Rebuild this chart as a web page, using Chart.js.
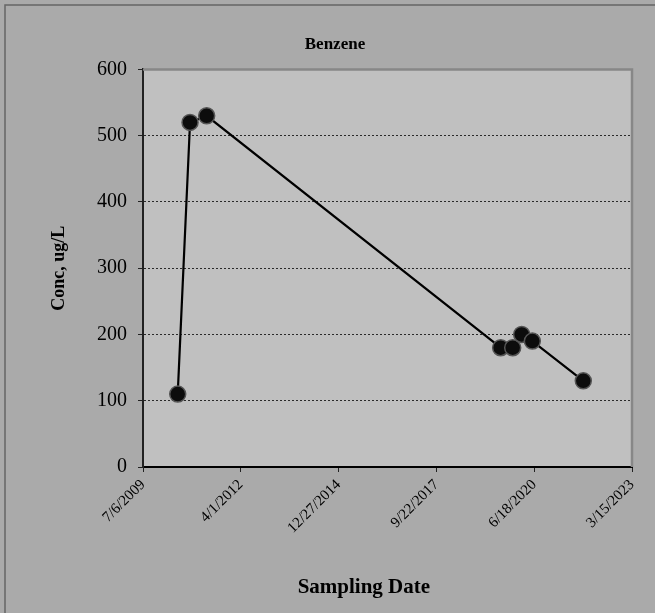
<!DOCTYPE html>
<html>
<head>
<meta charset="utf-8">
<title>Benzene</title>
<script src="https://cdn.jsdelivr.net/npm/chart.js@4.4.1/dist/chart.umd.min.js"></script>
<style>
    html, body { margin: 0; padding: 0; background: #aaaaaa; }
    #chart-wrap { width: 655px; height: 613px; }
</style>
</head>
<body>
<div id="chart-wrap">
    <canvas id="benzene-chart" width="655" height="613"></canvas>
</div>
<script>
// Sampling dates and benzene concentrations (ug/L)
const sampleDates = ['2010-06-26', '2010-10-30', '2011-04-18', '2019-07-11', '2019-11-11', '2020-02-11', '2020-05-30', '2021-11-02'];
const concValues = [110, 520, 530, 180, 180, 200, 190, 130];

// Axis ticks
const xTickDates = ['2009-07-06', '2012-04-01', '2014-12-27', '2017-09-22', '2020-06-18', '2023-03-15'];
const yTicks = [0, 100, 200, 300, 400, 500, 600];

const serif = "'Liberation Serif', 'Times New Roman', serif";

function toMs(s) {
    const p = s.split('-');
    return Date.UTC(+p[0], +p[1] - 1, +p[2]);
}

function fmtDate(ms) {
    const d = new Date(ms);
    return (d.getUTCMonth() + 1) + '/' + d.getUTCDate() + '/' + d.getUTCFullYear();
}

const xTickValues = xTickDates.map(toMs);
const points = sampleDates.map((d, i) => ({ x: toMs(d), y: concValues[i] }));

// Grey page, dark frame, plot area fill and its top/right border
const backgroundPlugin = {
    id: 'backgrounds',
    beforeDraw(chart) {
        const ctx = chart.ctx;
        const a = chart.chartArea;
        ctx.save();
        ctx.fillStyle = '#aaaaaa';
        ctx.fillRect(0, 0, chart.width, chart.height);
        ctx.strokeStyle = '#666666';
        ctx.lineWidth = 1.5;
        ctx.beginPath();
        ctx.moveTo(5, chart.height);
        ctx.lineTo(5, 5);
        ctx.lineTo(chart.width, 5);
        ctx.stroke();
        ctx.fillStyle = '#c0c0c0';
        ctx.fillRect(a.left, a.top, a.right - a.left, a.bottom - a.top);
        ctx.restore();
    },
    beforeDatasetsDraw(chart) {
        const ctx = chart.ctx;
        const a = chart.chartArea;
        ctx.save();
        ctx.strokeStyle = '#878787';
        ctx.lineWidth = 2.5;
        ctx.beginPath();
        ctx.moveTo(a.left, a.top);
        ctx.lineTo(a.right, a.top);
        ctx.lineTo(a.right, a.bottom);
        ctx.stroke();
        ctx.restore();
    }
};

const canvas = document.getElementById('benzene-chart');

new Chart(canvas, {
    type: 'line',
    data: {
        datasets: [{
            label: 'Benzene',
            data: points,
            borderColor: '#000000',
            borderWidth: 2.2,
            tension: 0,
            pointRadius: 8,
            pointHoverRadius: 8,
            pointBackgroundColor: '#0c0c0c',
            pointBorderColor: '#555555',
            pointBorderWidth: 1.5
        }]
    },
    options: {
        responsive: false,
        animation: false,
        devicePixelRatio: 1,
        layout: {
            padding: { left: 38, right: 23, top: 0, bottom: 0 }
        },
        plugins: {
            legend: { display: false },
            tooltip: { enabled: false },
            title: {
                display: true,
                text: 'Benzene',
                color: '#000000',
                font: { family: serif, size: 17, weight: 'bold' },
                padding: { top: 34, bottom: 15 }
            }
        },
        scales: {
            x: {
                type: 'linear',
                min: xTickValues[0],
                max: xTickValues[xTickValues.length - 1],
                afterBuildTicks(scale) {
                    scale.ticks = xTickValues.map(v => ({ value: v }));
                },
                afterFit(scale) {
                    scale.height = 146;
                },
                ticks: {
                    autoSkip: false,
                    minRotation: 45,
                    maxRotation: 45,
                    padding: 4,
                    color: '#000000',
                    font: { family: serif, size: 15 },
                    callback: function(value) {
                        return fmtDate(value);
                    }
                },
                grid: {
                    drawOnChartArea: false,
                    drawTicks: true,
                    tickLength: 5,
                    tickColor: '#222222'
                },
                border: { color: '#000000', width: 2 },
                title: {
                    display: true,
                    // trailing spaces nudge the centred title a bit left, like the original
                    text: 'Sampling Date         ',
                    color: '#000000',
                    font: { family: serif, size: 21, weight: 'bold' },
                    padding: { top: 0, bottom: 13 }
                }
            },
            y: {
                min: 0,
                max: 600,
                afterBuildTicks(scale) {
                    scale.ticks = yTicks.map(v => ({ value: v }));
                },
                afterFit(scale) {
                    scale.width = 105;
                },
                ticks: {
                    padding: 11,
                    color: '#000000',
                    font: { family: serif, size: 20 }
                },
                grid: {
                    drawTicks: true,
                    tickLength: 5,
                    tickColor: '#222222',
                    lineWidth: 1,
                    color: function(context) {
                        const v = context.tick ? context.tick.value : null;
                        if (v === 0 || v === 600) {
                            return 'rgba(0,0,0,0)';
                        }
                        return '#2a2a2a';
                    }
                },
                border: { color: '#222222', width: 2, dash: [2, 2] },
                title: {
                    display: true,
                    text: 'Conc, ug/L',
                    color: '#000000',
                    font: { family: serif, size: 18, weight: 'bold' },
                    padding: { top: 11, bottom: 0 }
                }
            }
        }
    },
    plugins: [backgroundPlugin]
});
</script>
</body>
</html>
